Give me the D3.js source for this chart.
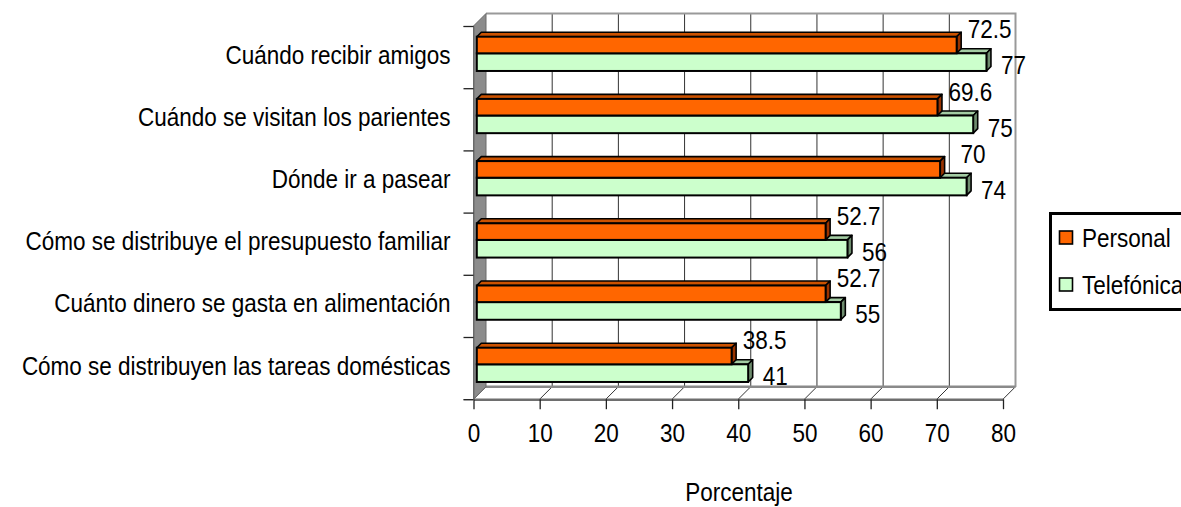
<!DOCTYPE html>
<html>
<head>
<meta charset="utf-8">
<script src="https://cdn.jsdelivr.net/npm/d3@7"></script>
<style>
  html, body { margin: 0; padding: 0; background: #ffffff; }
  svg { display: block; }
  text { font-family: "Liberation Sans", Arial, sans-serif; fill: #000; }
</style>
</head>
<body>
<svg id="chart" width="1181" height="507"></svg>
<script>
// ---- data ----
const categories = [
  "Cuándo recibir amigos",
  "Cuándo se visitan los parientes",
  "Dónde ir a pasear",
  "Cómo se distribuye el presupuesto familiar",
  "Cuánto dinero se gasta en alimentación",
  "Cómo se distribuyen las tareas domésticas"
];
const personal   = [72.5, 69.6, 70, 52.7, 52.7, 38.5];
const telefonica = [77, 75, 74, 56, 55, 41];
const xTicks = [0, 10, 20, 30, 40, 50, 60, 70, 80];
const seriesNames = ["Personal", "Telefónica"];
const axisTitle = "Porcentaje";

// ---- layout ----
const svg = d3.select("#chart");
const FS = 25, SX = 0.9;
const depth = 12.5;      // 3D depth of the plot box
const bd = 4.5;          // 3D depth of bars
const bOff = 3.3;        // bars sit a little behind the front plane
const x = d3.scaleLinear().domain([0, 80]).range([473.5, 1003]);
const y = d3.scaleBand().domain(categories).range([26, 399.2]).padding(0);
const yB = d3.scaleLinear().domain([0, categories.length]).range([26, 399.2]);
const yTop = y.range()[0], yBot = y.range()[1];
const bw = y.bandwidth();

const colors = {
  p: { front: "#FF6600", top: "#CC5200", side: "#993300" },
  t: { front: "#CCFFCC", top: "#A3CCA3", side: "#6E8C6E" }
};

// back wall
const wall = svg.append("g");
wall.append("rect").attr("x", x(0) + depth).attr("y", yTop - depth)
  .attr("width", x(80) - x(0)).attr("height", yBot - yTop)
  .attr("fill", "#fff").attr("stroke", "none");
// grid lines on back wall
wall.selectAll("line.grid").data(xTicks.filter(d => d > 0 && d < 80)).join("line")
  .attr("x1", d => x(d) + depth).attr("x2", d => x(d) + depth)
  .attr("y1", yTop - depth).attr("y2", yBot - depth)
  .attr("stroke", "#333").attr("stroke-width", 1);
// top and right edges of back wall
wall.append("path")
  .attr("d", `M${x(0)+depth},${yTop-depth} L${x(80)+depth},${yTop-depth} L${x(80)+depth},${yBot-depth}`)
  .attr("fill", "none").attr("stroke", "#999").attr("stroke-width", 2);
// floor
wall.append("path")
  .attr("d", `M${x(0)},${yBot} L${x(0)+depth},${yBot-depth} L${x(80)+depth},${yBot-depth} L${x(80)},${yBot}Z`)
  .attr("fill", "#fff").attr("stroke", "none");
wall.selectAll("line.floor").data(xTicks).join("line")
  .attr("x1", d => x(d)).attr("y1", yBot)
  .attr("x2", d => x(d) + depth).attr("y2", yBot - depth)
  .attr("stroke", "#333").attr("stroke-width", 1);
wall.append("line")
  .attr("x1", x(0) + depth).attr("x2", x(80) + depth)
  .attr("y1", yBot - depth).attr("y2", yBot - depth)
  .attr("stroke", "#8a8a8a").attr("stroke-width", 2.5);
// left side wall
wall.append("path")
  .attr("d", `M${x(0)},${yTop} L${x(0)+depth},${yTop-depth} L${x(0)+depth},${yBot-depth} L${x(0)},${yBot}Z`)
  .attr("fill", "#8c8c8c").attr("stroke", "#6a6a6a").attr("stroke-width", 1);

// ---- bars ----
function bar3d(g, v, y0, y1, c) {
  const x0 = x(0) + bOff, x1 = x(v) + bOff;
  const ya = y0 - bOff, yb = y1 - bOff;
  g.append("path").attr("d", `M${x0},${ya} L${x0+bd},${ya-bd} L${x1+bd},${ya-bd} L${x1},${ya}Z`)
    .attr("fill", c.top).attr("stroke", "#000").attr("stroke-width", 1.6).attr("stroke-linejoin", "round");
  g.append("path").attr("d", `M${x1},${ya} L${x1+bd},${ya-bd} L${x1+bd},${yb-bd} L${x1},${yb}Z`)
    .attr("fill", c.side).attr("stroke", "#000").attr("stroke-width", 1.6).attr("stroke-linejoin", "round");
  g.append("rect").attr("x", x0).attr("y", ya).attr("width", x1 - x0).attr("height", yb - ya)
    .attr("fill", c.front).attr("stroke", "#000").attr("stroke-width", 2);
}
const bars = svg.append("g");
categories.forEach((cat, i) => {
  const b = y(cat);
  const gi = bars.append("g");
  bar3d(gi, telefonica[i], b + bw * 0.492, b + bw * 0.776, colors.t);
  bar3d(gi, personal[i], b + bw * 0.225, b + bw * 0.492, colors.p);
});

// helper for horizontally condensed text
function ctext(g, str, tx, ty, anchor) {
  return g.append("text")
    .attr("transform", `translate(${tx},${ty}) scale(${SX},1)`)
    .attr("text-anchor", anchor).attr("font-size", FS).text(str);
}

// value labels
const vl = svg.append("g");
categories.forEach((cat, i) => {
  const b = y(cat);
  ctext(vl, String(personal[i]), x(personal[i]) + bOff + 33, b + 12.3, "middle");
  ctext(vl, String(telefonica[i]), x(telefonica[i]) + bOff + 27, b + 48.3, "middle");
});

// ---- axes ----
const xAxis = svg.append("g").attr("transform", `translate(0,${yBot})`)
  .call(d3.axisBottom(x).tickValues(xTicks).tickSize(10).tickSizeOuter(0).tickFormat(d3.format("d")));
xAxis.select(".domain").attr("stroke", "#6e6e6e").attr("stroke-width", 2.5);
xAxis.selectAll(".tick line").attr("stroke", "#222").attr("stroke-width", 1.3);
xAxis.selectAll(".tick text")
  .attr("y", 42.5).attr("dy", null)
  .attr("font-size", FS).attr("font-family", "Liberation Sans, Arial, sans-serif")
  .attr("fill", "#000").attr("transform", `scale(${SX},1)`);

// boundary ticks on the category axis
const yTickAxis = svg.append("g").attr("transform", `translate(${x(0)},0)`)
  .call(d3.axisLeft(yB).tickValues(d3.range(categories.length + 1)).tickSize(10).tickFormat(""));
yTickAxis.select(".domain").attr("stroke", "#6a6a6a").attr("stroke-width", 1);
yTickAxis.selectAll(".tick line").attr("stroke", "#222").attr("stroke-width", 1.3);

// category labels
const yAxis = svg.append("g").attr("transform", `translate(${x(0)},0)`)
  .call(d3.axisLeft(y).tickSize(0).tickPadding(0));
yAxis.select(".domain").remove();
yAxis.selectAll(".tick text")
  .attr("x", -23 / SX).attr("y", 6.5).attr("dy", null)
  .attr("font-size", FS).attr("font-family", "Liberation Sans, Arial, sans-serif")
  .attr("fill", "#000").attr("text-anchor", "end")
  .attr("transform", `scale(${SX},1)`);

// axis title
ctext(svg, axisTitle, 739, 501, "middle");

// ---- legend ----
const lg = svg.append("g");
lg.append("rect").attr("x", 1050.5).attr("y", 213.5).attr("width", 150).attr("height", 96)
  .attr("fill", "#fff").attr("stroke", "#000").attr("stroke-width", 3);
const legendColors = [colors.p.front, colors.t.front];
seriesNames.forEach((name, i) => {
  const yy = 231 + i * 47;
  lg.append("rect").attr("x", 1059.5).attr("y", yy).attr("width", 13).attr("height", 13)
    .attr("fill", legendColors[i]).attr("stroke", "#000").attr("stroke-width", 1.6);
  ctext(lg, name, 1082, yy + 16, "start");
});
</script>
</body>
</html>
